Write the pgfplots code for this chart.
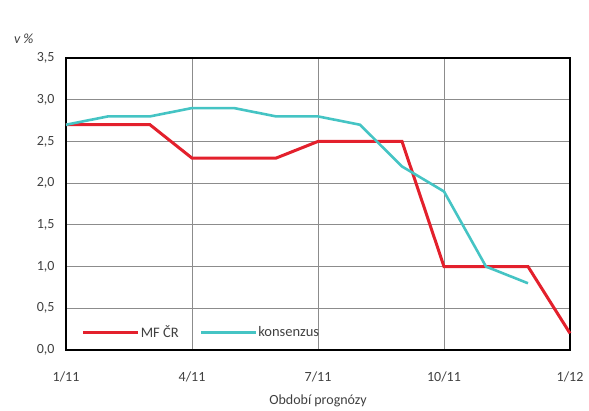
\documentclass[border=0pt]{standalone}
\usepackage{pgfplots}
\pgfplotsset{compat=1.18}
\usepackage{fontspec}
\setmainfont{Carlito}
\definecolor{mfred}{HTML}{E3202C}
\definecolor{konsteal}{HTML}{45C4C4}
\definecolor{txtgray}{HTML}{404040}
\begin{document}
\begin{tikzpicture}
\begin{axis}[
  scale only axis,
  width=504pt, height=292pt,
  xmin=0, xmax=12, ymin=0, ymax=3.5,
  xtick={0,3,6,9,12},
  xticklabels={1/11,4/11,7/11,10/11,1/12},
  ytick={0,0.5,...,3.5},
  yticklabels={{0,0},{0,5},{1,0},{1,5},{2,0},{2,5},{3,0},{3,5}},
  grid=major,
  major grid style={color=black!45, line width=1pt},
  axis line style={black, line width=2pt},
  tick style={draw=none},
  ticklabel style={font=\fontsize{14}{16}\selectfont, text=txtgray},
  yticklabel style={xshift=-8pt},
  xticklabel style={yshift=-18pt},
  xlabel={Období prognózy},
  xlabel style={font=\fontsize{14}{16}\selectfont, text=txtgray, yshift=-6pt},
  legend style={draw=none, fill=none, at={(0.025,0.06)}, anchor=west,
    legend columns=2, font=\fontsize{14.5}{16}\selectfont, text=txtgray,
    nodes={inner xsep=1pt},
    /tikz/every even column/.append style={column sep=20pt}},
  legend image code/.code={\draw[#1] (0pt,0pt) -- (55pt,0pt);},
  clip=false,
]
\addplot[mfred, line width=3pt] coordinates {
  (0,2.7) (1,2.7) (2,2.7) (3,2.3) (4,2.3) (5,2.3) (6,2.5)
  (7,2.5) (8,2.5) (9,1.0) (10,1.0) (11,1.0) (12,0.2)};
\addlegendentry{MF ČR}
\addplot[konsteal, line width=2.6pt] coordinates {
  (0,2.7) (1,2.8) (2,2.8) (3,2.9) (4,2.9) (5,2.8) (6,2.8)
  (7,2.7) (8,2.2) (9,1.9) (10,1.0) (11,0.8)};
\addlegendentry{konsenzus}
\node[anchor=west, font=\itshape\fontsize{14}{16}\selectfont, text=txtgray]
  at (rel axis cs:-0.11,1.065) {v \%};
\path[use as bounding box] (rel axis cs:0,0) ++(-66pt,-58pt) rectangle (rel axis cs:1,1) ++(19pt,58pt);
\end{axis}
\end{tikzpicture}
\end{document}
